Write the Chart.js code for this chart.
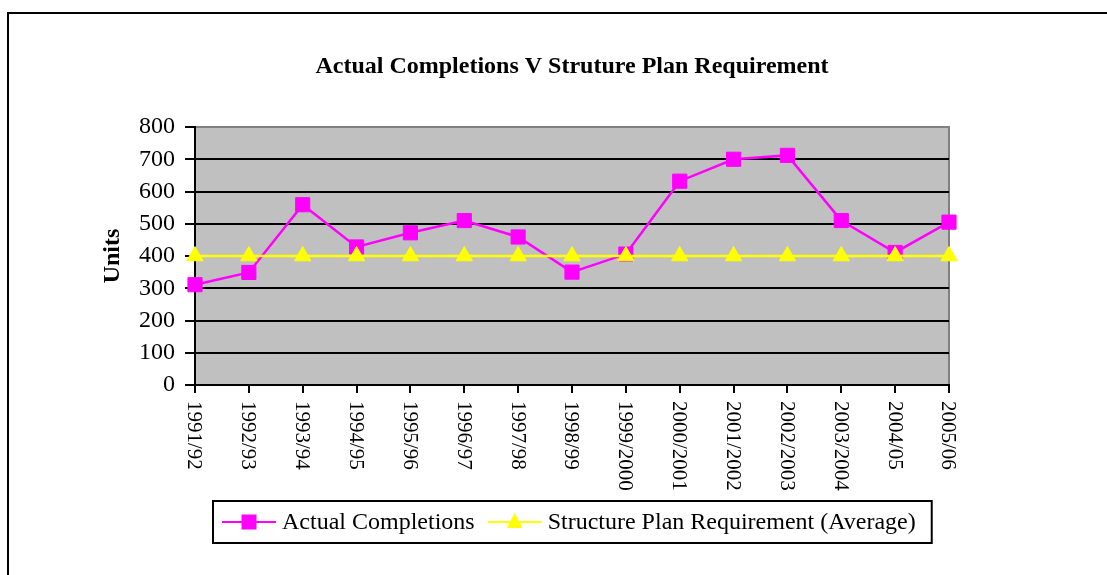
<!DOCTYPE html>
<html>
<head>
<meta charset="utf-8">
<script src="https://cdn.jsdelivr.net/npm/chart.js@4.4.0/dist/chart.umd.min.js"></script>
<style>
  html, body { margin: 0; padding: 0; background: #fff; overflow: hidden; width: 1107px; height: 575px; }
  #frame { position: absolute; left: 7px; top: 12px; width: 2000px; height: 2000px; border: 2px solid #000; }
  #chart { position: absolute; left: 0; top: 0; }
</style>
</head>
<body>
<div id="frame"></div>
<canvas id="chart" width="1107" height="575"></canvas>
<script>
const years = ['1991/92', '1992/93', '1993/94', '1994/95', '1995/96', '1996/97', '1997/98', '1998/99',
  '1999/2000', '2000/2001', '2001/2002', '2002/2003', '2003/2004', '2004/05', '2005/06'];
const actualCompletions = [311, 349, 559, 428, 472, 510, 459, 350, 406, 632, 700, 712, 510, 411, 505];
const planRequirement = [400, 400, 400, 400, 400, 400, 400, 400, 400, 400, 400, 400, 400, 400, 400];
const yTicks = [0, 100, 200, 300, 400, 500, 600, 700, 800];
const chartTitle = 'Actual Completions V Struture Plan Requirement';

const serif = "'Liberation Serif', 'Times New Roman', serif";
Chart.defaults.font.family = serif;
Chart.defaults.color = '#000';

// grey plot area with grey frame, drawn before the grid
const plotBackground = {
  id: 'plotBackground',
  beforeDraw(chart) {
    const { ctx, chartArea: a } = chart;
    ctx.save();
    ctx.fillStyle = '#c0c0c0';
    ctx.fillRect(a.left, a.top, a.right - a.left, a.bottom - a.top);
    ctx.strokeStyle = '#808080';
    ctx.lineWidth = 2;
    ctx.strokeRect(a.left, a.top, a.right - a.left, a.bottom - a.top);
    ctx.restore();
  }
};

// title centred over the plot area, not the whole canvas
const plotTitle = {
  id: 'plotTitle',
  afterDraw(chart) {
    const { ctx, chartArea: a } = chart;
    ctx.save();
    ctx.font = 'bold 24px ' + serif;
    ctx.fillStyle = '#000';
    ctx.textAlign = 'center';
    ctx.textBaseline = 'middle';
    ctx.fillText(chartTitle, (a.left + a.right) / 2, 67);
    ctx.restore();
  }
};

// category labels read top to bottom
const verticalLabels = {
  id: 'verticalLabels',
  afterDraw(chart) {
    const { ctx } = chart;
    const xs = chart.scales.x;
    ctx.save();
    ctx.font = '21px ' + serif;
    ctx.fillStyle = '#000';
    ctx.textAlign = 'left';
    ctx.textBaseline = 'middle';
    xs.ticks.forEach((t, i) => {
      const x = xs.getPixelForTick(i) - 1;
      ctx.save();
      ctx.translate(x, xs.top + 16);
      ctx.rotate(Math.PI / 2);
      ctx.fillText(xs.getLabelForValue(t.value), 0, 0);
      ctx.restore();
    });
    ctx.restore();
  }
};

function drawMarker(ctx, style, x, y, color) {
  ctx.fillStyle = color;
  ctx.beginPath();
  if (style === 'rect') {
    ctx.rect(x - 7.5, y - 7.5, 15, 15);
  } else {
    ctx.moveTo(x, y - 9);
    ctx.lineTo(x + 8, y + 6);
    ctx.lineTo(x - 8, y + 6);
    ctx.closePath();
  }
  ctx.fill();
}

// boxed legend with line + marker samples
const boxLegend = {
  id: 'boxLegend',
  afterDraw(chart) {
    const { ctx, chartArea: a } = chart;
    const sets = chart.data.datasets;
    ctx.save();
    ctx.font = '24px ' + serif;
    const w1 = ctx.measureText(sets[0].label).width;
    const w2 = ctx.measureText(sets[1].label).width;
    const total = 9 + 54 + 6 + w1 + 13 + 54 + 6 + w2 + 16;
    const left = Math.round((a.left + a.right) / 2 - total / 2);
    const top = 501, h = 42, cy = top + h / 2;
    ctx.strokeStyle = '#000';
    ctx.lineWidth = 2;
    ctx.strokeRect(left, top, total, h);
    let x = left + 9;
    [[sets[0], w1], [sets[1], w2]].forEach(([ds, w]) => {
      ctx.strokeStyle = ds.borderColor;
      ctx.lineWidth = 2;
      ctx.beginPath();
      ctx.moveTo(x, cy);
      ctx.lineTo(x + 54, cy);
      ctx.stroke();
      drawMarker(ctx, ds.pointStyle, x + 27, cy, ds.pointBackgroundColor);
      ctx.fillStyle = '#000';
      ctx.textAlign = 'left';
      ctx.textBaseline = 'middle';
      ctx.fillText(ds.label, x + 60, cy + 1);
      x += 60 + w + 13;
    });
    ctx.restore();
  }
};

new Chart(document.getElementById('chart'), {
  type: 'line',
  data: {
    labels: years,
    datasets: [
      {
        label: 'Actual Completions',
        data: actualCompletions,
        borderColor: '#ff00ff',
        backgroundColor: '#ff00ff',
        pointBackgroundColor: '#ff00ff',
        pointBorderColor: '#ff00ff',
        borderWidth: 2.5,
        pointStyle: 'rect',
        pointRadius: 10,
        pointBorderWidth: 1,
        tension: 0,
        clip: false,
        order: 1
      },
      {
        label: 'Structure Plan Requirement (Average)',
        data: planRequirement,
        borderColor: '#ffff00',
        backgroundColor: '#ffff00',
        pointBackgroundColor: '#ffff00',
        pointBorderColor: '#ffff00',
        borderWidth: 2.5,
        pointStyle: 'triangle',
        pointRadius: 9.5,
        pointBorderWidth: 1,
        tension: 0,
        clip: false,
        order: 0
      }
    ]
  },
  options: {
    responsive: false,
    animation: false,
    layout: { padding: { left: 0, right: 158, top: 127, bottom: 0 } },
    plugins: {
      legend: { display: false },
      tooltip: { enabled: false },
      title: { display: false }
    },
    scales: {
      x: {
        offset: false,
        afterFit(scale) { scale.height = 190; },
        ticks: { display: false },
        grid: { drawOnChartArea: false, drawTicks: true, tickLength: 8, tickColor: '#000', lineWidth: 2 },
        border: { color: '#000', width: 2 }
      },
      y: {
        min: yTicks[0],
        max: yTicks[yTicks.length - 1],
        afterFit(scale) { scale.width = 195; },
        afterBuildTicks(scale) { scale.ticks = yTicks.map(v => ({ value: v })); },
        ticks: { font: { size: 24, family: serif }, color: '#000', padding: 10 },
        grid: {
          color: ctx => (ctx.tick && ctx.tick.value === 800 ? '#808080' : '#000'),
          lineWidth: 2,
          tickLength: 10,
          tickColor: '#000'
        },
        border: { color: '#000', width: 2 },
        title: {
          display: true,
          text: 'Units',
          color: '#000',
          font: { size: 24, weight: 'bold', family: serif, lineHeight: 1.2 },
          padding: { top: 98, bottom: 0 }
        }
      }
    }
  },
  plugins: [plotBackground, verticalLabels, plotTitle, boxLegend]
});
</script>
</body>
</html>
